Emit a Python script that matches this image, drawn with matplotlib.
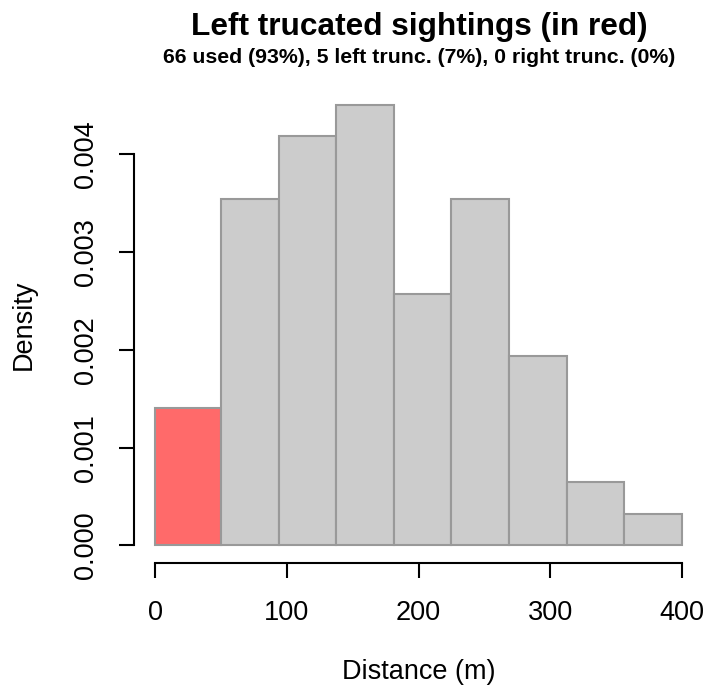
import matplotlib
matplotlib.use("Agg")
import matplotlib.pyplot as plt
import numpy as np

plt.rcParams['font.family'] = ['Liberation Sans', 'DejaVu Sans']

# histogram bins (distance, m) and counts
left_trunc_edges = [0, 50]
left_trunc_count = [5]
used_edges = [50, 93.75, 137.5, 181.25, 225, 268.75, 312.5, 356.25, 400]
used_counts = [11, 13, 14, 8, 11, 6, 2, 1]
n_total = 71

x_ticks = [0, 100, 200, 300, 400]
y_ticks = [0.000, 0.001, 0.002, 0.003, 0.004]

title = "Left trucated sightings (in red)"
subtitle = "66 used (93%), 5 left trunc. (7%), 0 right trunc. (0%)"

# density = count / (N * bin width)
used_w = np.diff(used_edges)
used_dens = np.array(used_counts) / (n_total * used_w)
lt_w = np.diff(left_trunc_edges)
lt_dens = np.array(left_trunc_count) / (n_total * lt_w)

fig = plt.figure(figsize=(7.08, 6.94), dpi=100)
ax = fig.add_axes([134/708, 1 - 563/694, (703-134)/708, (563-87)/694])

ax.bar(left_trunc_edges[:-1], lt_dens, width=lt_w, align='edge',
       color='#ff6a6a', edgecolor='#999999', linewidth=1.5)
ax.bar(used_edges[:-1], used_dens, width=used_w, align='edge',
       color='#cccccc', edgecolor='#999999', linewidth=1.5)

ymax = used_dens.max()
ax.set_xlim(-16, 416)
ax.set_ylim(-0.04*ymax, 1.04*ymax)

for s in ['top', 'right']:
    ax.spines[s].set_visible(False)
ax.spines['bottom'].set_bounds(0, 400)
ax.spines['left'].set_bounds(0, 0.004)
for s in ['bottom', 'left']:
    ax.spines[s].set_linewidth(1.5)

ax.set_xticks(x_ticks)
ax.set_xticklabels([str(v) for v in x_ticks])
ax.set_yticks(y_ticks)
ax.set_yticklabels(["%.3f" % v for v in y_ticks], rotation=90, va='center')
ax.tick_params(axis='both', length=11, width=1.5, labelsize=19.5)
ax.tick_params(axis='x', pad=16)
ax.tick_params(axis='y', pad=14)

ax.set_xlabel("Distance (m)", fontsize=19.5, labelpad=23.5)
ax.set_ylabel("Density", fontsize=19.5, labelpad=26)

fig.text(419/708, 1 - 35/694, title, ha='center', va='baseline',
         fontsize=22.8, fontweight='bold')
fig.text(419/708, 1 - 63/694, subtitle, ha='center', va='baseline',
         fontsize=15.3, fontweight='bold')

fig.savefig("out.png", dpi=100)
